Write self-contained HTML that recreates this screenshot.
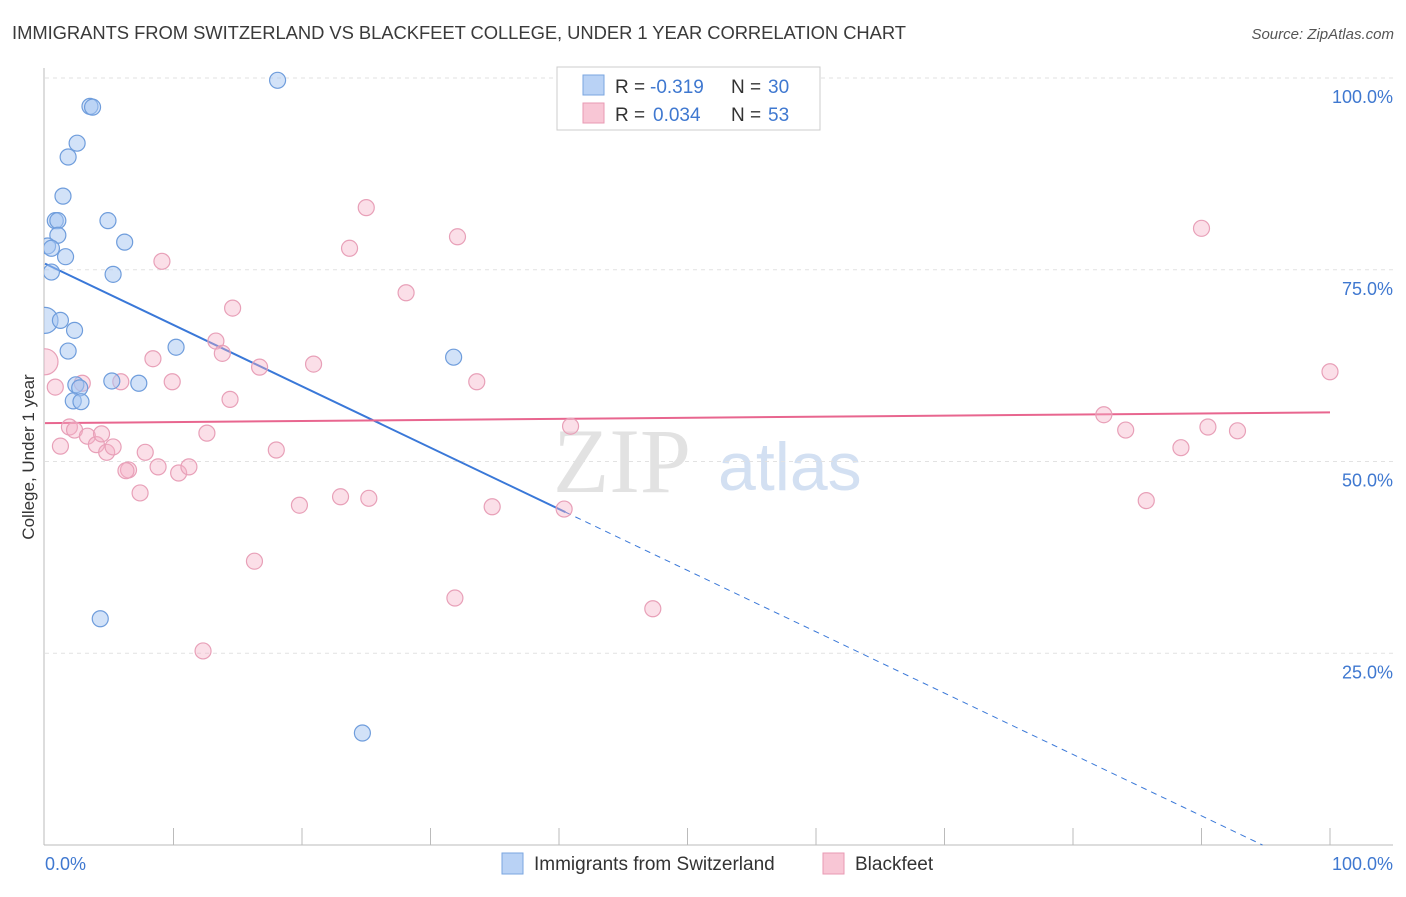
<!DOCTYPE html>
<html><head><meta charset="utf-8"><style>
body{margin:0;background:#fff;font-family:"Liberation Sans",sans-serif;}
</style></head><body>
<svg width="1406" height="892" xmlns="http://www.w3.org/2000/svg" font-family="Liberation Sans, sans-serif">
<defs><clipPath id="plotclip"><rect x="44" y="60" width="1360" height="786"/></clipPath></defs>
<text x="12" y="39" font-size="18.4" fill="#3a3a3a" textLength="894">IMMIGRANTS FROM SWITZERLAND VS BLACKFEET COLLEGE, UNDER 1 YEAR CORRELATION CHART</text>
<text x="1394" y="39" font-size="15" fill="#555" text-anchor="end" font-style="italic">Source: ZipAtlas.com</text>
<g>
<text x="553" y="492" font-size="92" fill="#dcdcdc" font-family="Liberation Serif, serif" opacity="0.8">ZIP</text>
<text x="718" y="490" font-size="68" fill="#c9d9f0" opacity="0.8">atlas</text>
</g>
<g id="grid"></g>
<g id="axes"></g>
<g id="lines"></g>
<g id="pts" clip-path="url(#plotclip)"></g>
<g>
<rect x="557" y="67" width="263" height="63" fill="#fff" stroke="#ccc"/>
<rect x="583" y="75" width="21" height="20" fill="#b9d2f5" stroke="#7aa6e0"/>
<rect x="583" y="103" width="21" height="20" fill="#f8c6d5" stroke="#e89ab3"/>
<text x="615" y="93" font-size="19" fill="#333">R =</text><text x="650" y="93" font-size="19" fill="#3f78d0">-0.319</text>
<text x="731" y="93" font-size="19" fill="#333">N =</text><text x="768" y="93" font-size="19" fill="#3f78d0">30</text>
<text x="615" y="121" font-size="19" fill="#333">R =</text><text x="653" y="121" font-size="19" fill="#3f78d0">0.034</text>
<text x="731" y="121" font-size="19" fill="#333">N =</text><text x="768" y="121" font-size="19" fill="#3f78d0">53</text>
</g>
<g>
<rect x="502" y="853" width="21" height="21" fill="#b9d2f5" stroke="#7aa6e0"/>
<text x="534" y="870" font-size="19" fill="#333">Immigrants from Switzerland</text>
<rect x="823" y="853" width="21" height="21" fill="#f8c6d5" stroke="#e89ab3"/>
<text x="855" y="870" font-size="19" fill="#333">Blackfeet</text>
</g>
<text x="34" y="457" font-size="17" fill="#333" transform="rotate(-90 34 457)" text-anchor="middle">College, Under 1 year</text>
</svg>
<script>
const yTicks=[100,75,50,25];
const yTickLabels=["100.0%","75.0%","50.0%","25.0%"];
const xTickLabels=["0.0%","100.0%"];
const blueX=[18.1,3.5,3.7,2.5,1.8,1.4,0.8,1.0,4.9,1.0,6.2,0.2,0.5,1.6,0.5,5.3,0,1.2,2.3,1.8,10.2,31.8,5.2,7.3,2.4,2.7,2.2,2.8,4.3,24.7];
const blueY=[99.7,96.3,96.2,91.5,89.7,84.6,81.4,81.4,81.4,79.5,78.6,78.1,77.8,76.7,74.7,74.4,68.4,68.4,67.1,64.4,64.9,63.6,60.5,60.2,60.0,59.6,57.9,57.8,29.5,14.6];
const blueR=[8,8,8,8,8,8,8,8,8,8,8,8,8,8,8,8,13,8,8,8,8,8,8,8,8,8,8,8,8,8];
const pinkX=[0,0.8,2.9,5.9,1.2,1.9,2.3,3.3,4.0,4.4,4.8,5.3,6.5,6.3,7.4,7.8,8.4,9.1,9.9,10.4,11.2,8.8,12.6,13.3,13.8,14.4,14.6,16.7,18.0,19.8,20.9,23.0,23.7,25.0,25.2,28.1,31.9,32.1,33.6,34.8,40.9,40.4,47.3,12.3,16.3,82.4,84.1,85.7,88.4,90.0,90.5,92.8,100];
const pinkY=[63.0,59.7,60.2,60.4,52.0,54.5,54.1,53.3,52.2,53.6,51.2,51.9,48.9,48.8,45.9,51.2,63.4,76.1,60.4,48.5,49.3,49.3,53.7,65.7,64.1,58.1,70.0,62.3,51.5,44.3,62.7,45.4,77.8,83.1,45.2,72.0,32.2,79.3,60.4,44.1,54.6,43.8,30.8,25.3,37.0,56.1,54.1,44.9,51.8,80.4,54.5,54.0,61.7];
const blueTrend=[75.8,-0.80]; // intercept, slope
const pinkTrend=[55.0,0.014];
const blueSolidEnd=[40.5];
const X0=45,X1=1330,Y0=845,Y100=78;
const sx=v=>X0+(X1-X0)*v/100, sy=v=>Y0-(Y0-Y100)*v/100;
const NS="http://www.w3.org/2000/svg";
function mk(t,a,p){const e=document.createElementNS(NS,t);for(const k in a)e.setAttribute(k,a[k]);p.appendChild(e);return e;}
const grid=document.getElementById('grid'),axes=document.getElementById('axes');
yTicks.forEach((t,i)=>{
 const l=mk('line',{x1:45,x2:1393,y1:sy(t),y2:sy(t),stroke:'#e2e2e2','stroke-dasharray':'4 4'},grid);
 
 
 const tx=mk('text',{x:1393,y:sy(t)+25,'font-size':18,fill:'#3f78d0','text-anchor':'end'},axes);
 tx.textContent=yTickLabels[i];
 
 
});
mk('line',{x1:44,x2:44,y1:68,y2:845,stroke:'#bbb'},axes);
mk('line',{x1:44,x2:1393,y1:845,y2:845,stroke:'#bbb'},axes);
for(let i=1;i<=10;i++){const x=sx(i*10);const t=mk('line',{x1:x,x2:x,y1:828,y2:845,stroke:'#bbb'},axes);
 
 }
[[0,'start',45],[100,'end',1393]].forEach((d,i)=>{const t=mk('text',{x:d[2],y:870,'font-size':18,fill:'#3f78d0','text-anchor':d[1]},axes);t.textContent=xTickLabels[i];
 
 });
const pts=document.getElementById('pts');
pinkX.forEach((x,i)=>{const c=mk('circle',{cx:sx(x),cy:sy(pinkY[i]),r:i==0?13:8,fill:'rgba(245,175,198,0.4)',stroke:'#e8a0b8','stroke-width':1.2},pts);
 
 });
blueX.forEach((x,i)=>{const c=mk('circle',{cx:sx(x),cy:sy(blueY[i]),r:blueR[i],fill:'rgba(165,198,242,0.5)',stroke:'#6f9ddc','stroke-width':1.2},pts);
 
 });
const lines=document.getElementById('lines');
const bf=x=>blueTrend[0]+blueTrend[1]*x, pf=x=>pinkTrend[0]+pinkTrend[1]*x;
const xe=-blueTrend[0]/blueTrend[1];
let l1=mk('line',{x1:sx(0),y1:sy(bf(0)),x2:sx(blueSolidEnd[0]),y2:sy(bf(blueSolidEnd[0])),stroke:'#3a78d8','stroke-width':2},lines);


let l2=mk('line',{x1:sx(blueSolidEnd[0]),y1:sy(bf(blueSolidEnd[0])),x2:sx(xe),y2:sy(0),stroke:'#3a78d8','stroke-width':1,'stroke-dasharray':'6 5'},lines);


let l3=mk('line',{x1:sx(0),y1:sy(pf(0)),x2:sx(100),y2:sy(pf(100)),stroke:'#e8668f','stroke-width':2},lines);


</script>
</body></html>
